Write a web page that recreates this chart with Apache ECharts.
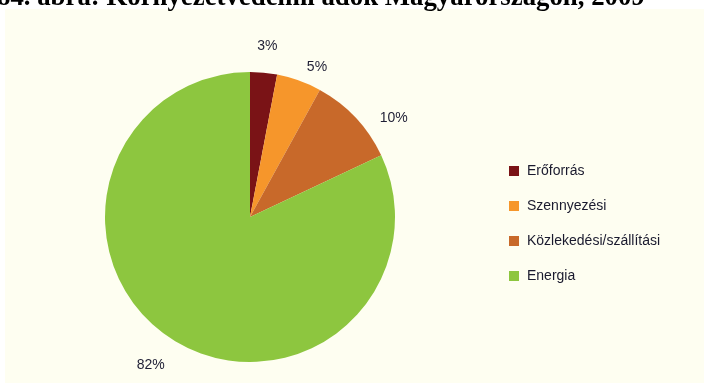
<!DOCTYPE html>
<html>
<head>
<meta charset="utf-8">
<script src="https://cdn.jsdelivr.net/npm/echarts@6/dist/echarts.min.js"></script>
<style>html,body{margin:0;padding:0;background:#fff;}#c{width:704px;height:383px;}</style>
</head>
<body>
<div id="c"></div>
<script>
var titleText = '84. ábra: Környezetvédelmi adók Magyarországon, 2009';
var categories = ['Erőforrás', 'Szennyezési', 'Közlekedési/szállítási', 'Energia'];
var values = [3, 5, 10, 82];
var colors = ['#7A1316', '#F6962B', '#C8692A', '#8DC63F'];
// label placement tweaks (labelLine length, length2, distance) per slice
var labelLen = [27, 14, 0, 31];
var labelLen2 = [0, 0, 19, 0];
var labelDist = [-9, 3, 5, -9];

var chart = echarts.init(document.getElementById('c'), null, {renderer: 'canvas'});
var data = categories.map(function (c, i) {
  return {
    name: c, value: values[i], itemStyle: {color: colors[i]},
    label: {distanceToLabelLine: labelDist[i]},
    labelLine: {length: labelLen[i], length2: labelLen2[i]}
  };
});
chart.setOption({
  backgroundColor: '#ffffff',
  animation: false,
  graphic: [
    {type: 'rect', z: -10, shape: {x: 5, y: 9, width: 710, height: 380}, style: {fill: '#FEFEF1'}},
    {type: 'text', x: -3, y: -1.5, style: {text: titleText, font: 'bold 26.8px "Liberation Serif", "Times New Roman", serif', fill: '#000', verticalAlign: 'middle', align: 'left'}}
  ],
  legend: {
    orient: 'vertical',
    left: 509,
    top: 164,
    padding: 0,
    icon: 'rect',
    itemWidth: 10,
    itemHeight: 10,
    itemGap: 21,
    textStyle: {fontFamily: '"Liberation Sans", Arial, sans-serif', fontSize: 14, color: '#1a1a2e', padding: [0, 0, 0, 3]},
    data: categories
  },
  series: [{
    type: 'pie',
    center: [250, 217],
    radius: [0, 145],
    startAngle: 90,
    clockwise: true,
    avoidLabelOverlap: false,
    data: data,
    label: {
      show: true,
      position: 'outside',
      formatter: function (p) { return p.value + '%'; },
      fontFamily: '"Liberation Sans", Arial, sans-serif',
      fontSize: 14,
      color: '#1f1f35'
    },
    labelLine: {show: false},
    emphasis: {disabled: true}
  }]
});
</script>
</body>
</html>
